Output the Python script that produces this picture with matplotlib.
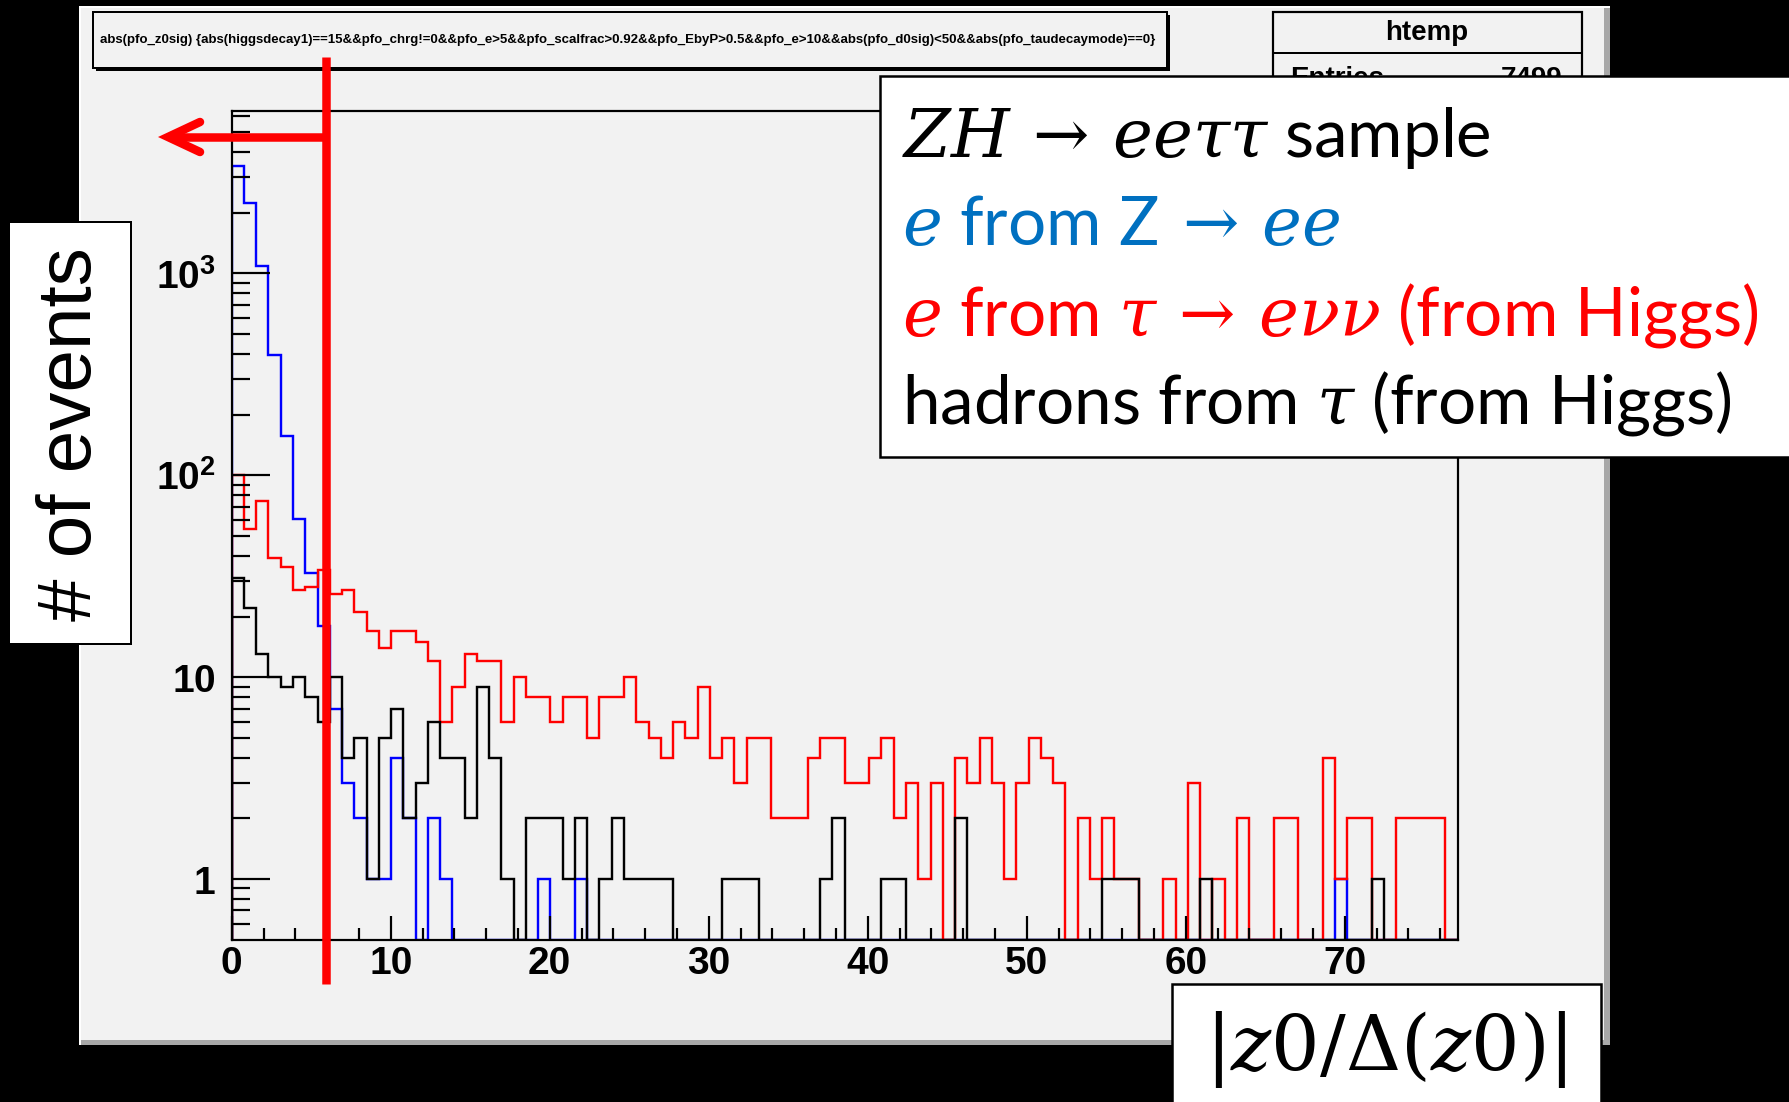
import numpy as np
import matplotlib
matplotlib.use("Agg")
import matplotlib.pyplot as plt
from matplotlib.patches import Rectangle
from matplotlib.lines import Line2D

# ---------------- data ----------------
n_bins = 100
x_min, x_max = 0.0, 77.1
y_min, y_max = 0.5, 6400

blue_counts = [3410, 2237, 1088, 395, 157, 61, 33, 18, 7, 3,
               2, 1, 1, 4, 2, 0, 2, 1, 0, 0,
               0, 0, 0, 0, 0, 1, 0, 0, 1, 0,
               0, 0, 0, 0, 0, 0, 0, 0, 0, 0,
               0, 0, 0, 0, 0, 0, 0, 0, 0, 0,
               0, 0, 0, 0, 0, 0, 0, 0, 0, 0,
               0, 0, 0, 0, 0, 0, 0, 0, 0, 0,
               0, 0, 0, 0, 0, 0, 0, 0, 0, 0,
               0, 0, 0, 0, 0, 0, 0, 0, 0, 0,
               1, 0, 0, 0, 0, 0, 0, 0, 0, 0]

red_counts = [100, 54, 75, 39, 35, 27, 28, 34, 26, 27,
              21, 17, 14, 17, 17, 15, 12, 6, 9, 13,
              12, 12, 6, 10, 8, 8, 6, 8, 8, 5,
              8, 8, 10, 6, 5, 4, 6, 5, 9, 4,
              5, 3, 5, 5, 2, 2, 2, 4, 5, 5,
              3, 3, 4, 5, 2, 3, 1, 3, 0, 4,
              3, 5, 3, 1, 3, 5, 4, 3, 0, 2,
              1, 2, 1, 1, 0, 0, 1, 0, 3, 0,
              1, 0, 2, 0, 0, 2, 2, 0, 0, 4,
              1, 2, 2, 0, 0, 2, 2, 2, 2, 0]

black_counts = [31, 22, 13, 10, 9, 10, 8, 6, 10, 4,
                5, 1, 5, 7, 2, 3, 6, 4, 4, 2,
                9, 4, 1, 0, 2, 2, 2, 1, 2, 0,
                1, 2, 1, 1, 1, 1, 0, 0, 0, 0,
                1, 1, 1, 0, 0, 0, 0, 0, 1, 2,
                0, 0, 0, 1, 1, 0, 0, 0, 0, 2,
                0, 0, 0, 0, 0, 0, 0, 0, 0, 0,
                0, 1, 1, 1, 0, 0, 0, 0, 0, 1,
                0, 0, 0, 0, 0, 0, 0, 0, 0, 0,
                0, 0, 0, 1, 0, 0, 0, 0, 0, 0]

x_tick_values = [0, 10, 20, 30, 40, 50, 60, 70]
x_tick_labels = ["0", "10", "20", "30", "40", "50", "60", "70"]
y_tick_values = [1, 10, 100, 1000]
y_tick_labels = [r"$\mathbf{1}$", r"$\mathbf{10}$", r"$\mathbf{10^{2}}$", r"$\mathbf{10^{3}}$"]

cut_value = 5.9

title_text = ("abs(pfo_z0sig) {abs(higgsdecay1)==15&&pfo_chrg!=0&&pfo_e>5&&pfo_scalfrac>0.92"
              "&&pfo_EbyP>0.5&&pfo_e>10&&abs(pfo_d0sig)<50&&abs(pfo_taudecaymode)==0}")
stats_name = "htemp"
stats_entries = "7499"

legend_lines = [
    (r"$ZH\,\rightarrow\,ee\tau\tau$ sample", "black"),
    (r"$e$ from Z$\,\rightarrow\,ee$", "#0070C0"),
    (r"$e$ from $\tau\,\rightarrow\,e\nu\nu$ (from Higgs)", "#FF0000"),
    (r"hadrons from $\tau$ (from Higgs)", "black"),
]
y_label_text = "# of events"
x_label_text = r"$|z0/\Delta(z0)|$"

# ---------------- style ----------------
plt.rcParams["mathtext.fontset"] = "custom"
plt.rcParams["mathtext.rm"] = "DejaVu Serif"
plt.rcParams["mathtext.it"] = "DejaVu Serif:italic"
plt.rcParams["mathtext.bf"] = "Liberation Sans:bold"
plt.rcParams["mathtext.sf"] = "Liberation Sans"

W, H = 1790, 1102
DPI = 100
fig = plt.figure(figsize=(W / DPI, H / DPI), dpi=DPI, facecolor="black")

def px(v):  # pixels -> points
    return v * 72.0 / DPI

def fx(x):
    return x / W

def fy(y):
    return 1 - y / H

def rect(x0, y0, x1, y1, **kw):
    r = Rectangle((fx(x0), fy(y1)), (x1 - x0) / W, (y1 - y0) / H,
                  transform=fig.transFigure, **kw)
    fig.add_artist(r)
    return r

canvas_gray = "#f2f2f2"
# ROOT canvas with border
rect(79, 6, 1610, 1045, facecolor="#ffffff", edgecolor="none", zorder=-3)
rect(81, 8, 1610, 1045, facecolor="#a8a8a8", edgecolor="none", zorder=-3)
rect(81, 8, 1604, 1040, facecolor=canvas_gray, edgecolor="none", zorder=-3)

# axes frame
ax_l, ax_r, ax_t, ax_b = 231.7, 1457.7, 110.7, 940.0
ax = fig.add_axes([fx(ax_l), fy(ax_b), (ax_r - ax_l) / W, (ax_b - ax_t) / H])
ax.set_facecolor(canvas_gray)

edges = np.linspace(x_min, x_max, n_bins + 1)
for counts, col in [(blue_counts, "#0000ff"), (red_counts, "#ff0000"), (black_counts, "black")]:
    v = np.asarray(counts, dtype=float)
    v = np.where(v > 0, v, y_min)
    ax.stairs(v, edges, baseline=y_min, color=col, lw=px(2.4), fill=False)

ax.set_yscale("log")
ax.set_xlim(x_min, x_max)
ax.set_ylim(y_min, y_max)
for s in ax.spines.values():
    s.set_linewidth(px(2.2))
    s.set_color("black")

ax.set_xticks(x_tick_values)
ax.set_xticklabels(x_tick_labels)
ax.set_xticks(np.arange(2, 77, 2), minor=True)
ax.set_yticks(y_tick_values)
ax.set_yticklabels(y_tick_labels)
minor_y = []
for dec in [0.1, 1, 10, 100, 1000]:
    for k in range(2, 10):
        val = k * dec
        if y_min < val < y_max:
            minor_y.append(val)
ax.set_yticks(minor_y, minor=True)
ax.yaxis.set_minor_formatter(matplotlib.ticker.NullFormatter())

ax.tick_params(axis="x", which="major", direction="in", length=px(24), width=px(2.2),
               labelsize=28, pad=px(6), top=False)
ax.tick_params(axis="x", which="minor", direction="in", length=px(12), width=px(2.2), top=False)
ax.tick_params(axis="y", which="major", direction="in", length=px(38), width=px(2.2),
               labelsize=28, pad=px(16), right=False)
ax.tick_params(axis="y", which="minor", direction="in", length=px(18), width=px(2.2), right=False)
for lab in ax.get_xticklabels():
    lab.set_fontfamily("Liberation Sans")
    lab.set_fontweight("bold")

# ---------------- title box ----------------
rect(96, 15, 1170, 71, facecolor="black", edgecolor="none", zorder=4)
rect(93, 12, 1167, 68, facecolor=canvas_gray, edgecolor="black", lw=px(2), zorder=4.1)
renderer = fig.canvas.get_renderer()
tt = fig.text(fx(100), fy(40), title_text, fontsize=9, fontfamily="Liberation Sans",
              fontweight="bold", ha="left", va="center", zorder=4.2)
w = tt.get_window_extent(renderer).width
tt.set_fontsize(9 * 1058 / w)

# ---------------- stats box ----------------
rect(1273, 12, 1582, 200, facecolor=canvas_gray, edgecolor="black", lw=px(2.2), zorder=4)
fig.add_artist(Line2D([fx(1273), fx(1582)], [fy(53), fy(53)], transform=fig.transFigure,
                      color="black", lw=px(2), zorder=4.1))
fig.text(fx(1427), fy(33), stats_name, fontsize=20, fontfamily="Liberation Sans",
         fontweight="bold", ha="center", va="center", zorder=4.2)
fig.text(fx(1290), fy(86), "Entries", fontsize=20, fontfamily="Liberation Sans",
         fontweight="bold", ha="left", va="baseline", zorder=4.2)
fig.text(fx(1562), fy(86), stats_entries, fontsize=20, fontfamily="Liberation Sans",
         fontweight="bold", ha="right", va="baseline", zorder=4.2)

# ---------------- cut line and arrow ----------------
cut_px = ax.transData.transform((cut_value, 1.0))[0]
cut_fx = cut_px / W
red_lw = px(8.5)
fig.add_artist(Line2D([cut_fx, cut_fx], [fy(57), fy(984)], transform=fig.transFigure,
                      color="#ff0000", lw=red_lw, solid_capstyle="butt", zorder=5))
fig.add_artist(Line2D([cut_fx, fx(170)], [fy(137), fy(137)], transform=fig.transFigure,
                      color="#ff0000", lw=red_lw, solid_capstyle="butt", zorder=5))
fig.add_artist(Line2D([fx(200), fx(168), fx(200)], [fy(122), fy(137), fy(152)],
                      transform=fig.transFigure, color="#ff0000", lw=red_lw,
                      solid_capstyle="round", solid_joinstyle="miter", zorder=5))

# ---------------- legend box ----------------
rect(880, 76, 1800, 457, facecolor="white", edgecolor="black", lw=px(2.5), zorder=6)
baselines = [157, 245, 335, 423]
for (txt, col), yb in zip(legend_lines, baselines):
    fig.text(fx(902), fy(yb), txt, fontsize=48.5, fontfamily="Lato", color=col,
             ha="left", va="baseline", zorder=6.1)

# ---------------- y label box ----------------
rect(9, 222, 131, 644, facecolor="white", edgecolor="black", lw=px(2), zorder=6)
fig.text(fx(72), fy(434), y_label_text, fontsize=55, fontfamily="Liberation Sans",
         rotation=90, ha="center", va="center", zorder=6.1)

# ---------------- x label box ----------------
rect(1172, 984, 1601, 1110, facecolor="white", edgecolor="black", lw=px(2.5), zorder=6)
fig.text(fx(1386), fy(1050), x_label_text, fontsize=55, ha="center", va="center", zorder=6.1)

fig.savefig("out.png", dpi=DPI, facecolor="black")
